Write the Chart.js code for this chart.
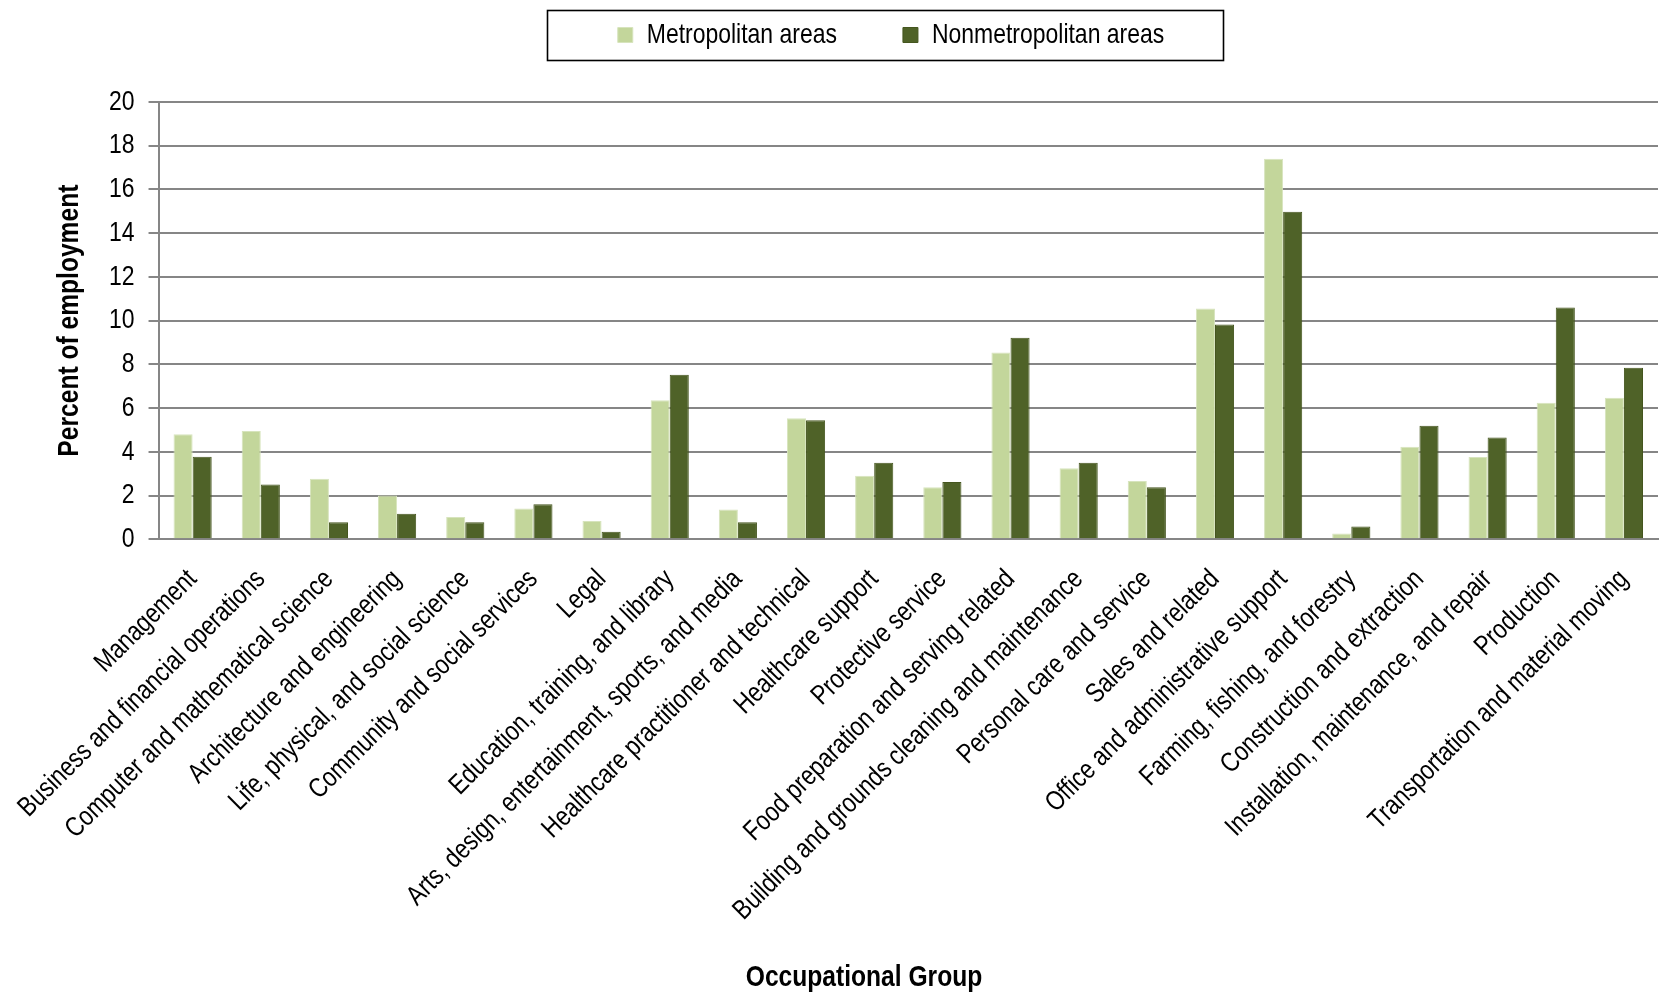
<!DOCTYPE html>
<html>
<head>
<meta charset="utf-8">
<script src="https://cdn.jsdelivr.net/npm/chart.js@4.4.1/dist/chart.umd.min.js"></script>
<style>
  html, body { margin: 0; padding: 0; background: #fff; }
  #wrap { width: 1663px; height: 996px; }
</style>
</head>
<body>
<div id="wrap"><canvas id="occChart"></canvas></div>
<script>
//categories on the x axis
var groups = [
  'Management',
  'Business and financial operations',
  'Computer and mathematical science',
  'Architecture and engineering',
  'Life, physical, and social science',
  'Community and social services',
  'Legal',
  'Education, training, and library',
  'Arts, design, entertainment, sports, and media',
  'Healthcare practitioner and technical',
  'Healthcare support',
  'Protective service',
  'Food preparation and serving related',
  'Building and grounds cleaning and maintenance',
  'Personal care and service',
  'Sales and related',
  'Office and administrative support',
  'Farming, fishing, and forestry',
  'Construction and extraction',
  'Installation, maintenance, and repair',
  'Production',
  'Transportation and material moving'
];

//percent of employment
var metro = [4.8, 4.95, 2.77, 2.0, 1.02, 1.41, 0.83, 6.36, 1.36, 5.53, 2.9, 2.38, 8.54, 3.25, 2.67, 10.55, 17.4, 0.26, 4.23, 3.76, 6.24, 6.47];
var nonmetro = [3.77, 2.5, 0.78, 1.17, 0.78, 1.6, 0.34, 7.52, 0.78, 5.44, 3.5, 2.62, 9.22, 3.5, 2.38, 9.82, 14.98, 0.58, 5.19, 4.65, 10.6, 7.85];

var seriesNames = ['Metropolitan areas', 'Nonmetropolitan areas'];
var xTitle = 'Occupational Group';
var yTitle = 'Percent of employment';

var FONT = "'Liberation Sans', Arial, sans-serif";
var NARROW = 0.82; // the original uses a narrow face, squeeze the text sideways

var canvas = document.getElementById('occChart');

//squeeze text on this canvas so it looks like Arial Narrow
var c2d = canvas.getContext('2d');
var baseFill = c2d.fillText;
var baseMeasure = c2d.measureText;
c2d.fillText = function(t, x, y, mw) {
  this.save();
  this.translate(x, y);
  this.scale(NARROW, 1);
  if (mw === undefined || mw === null) baseFill.call(this, t, 0, 0);
  else baseFill.call(this, t, 0, 0, mw / NARROW);
  this.restore();
};
c2d.measureText = function(t) {
  var m = baseMeasure.call(this, t);
  return {
    width: m.width * NARROW,
    actualBoundingBoxAscent: m.actualBoundingBoxAscent,
    actualBoundingBoxDescent: m.actualBoundingBoxDescent,
    actualBoundingBoxLeft: m.actualBoundingBoxLeft * NARROW,
    actualBoundingBoxRight: m.actualBoundingBoxRight * NARROW
  };
};

//legend: fixed height, moved into place, and framed; x title drawn under the labels
var layoutTweak = {
  id: 'layoutTweak',
  beforeInit: function(chart) {
    var fit = chart.legend.fit;
    chart.legend.fit = function() {
      fit.bind(chart.legend)();
      this.height = 92;
    };
  },
  afterLayout: function(chart) {
    var lg = chart.legend;
    var pad = lg.options.labels.padding;
    lg.left += 38; lg.right += 38;
    lg.top = 35 - pad - 14;
  },
  afterDraw: function(chart) {
    var c = chart.ctx;
    c.save();
    c.strokeStyle = '#000';
    c.lineWidth = 1.6;
    c.strokeRect(547.5, 10.5, 676, 50);
    c.fillStyle = '#000';
    c.font = 'bold 30px ' + FONT;
    c.textAlign = 'center';
    c.textBaseline = 'middle';
    c.fillText(xTitle, 864, 978);
    c.restore();
  }
};

var occChart = new Chart(canvas, {
  type: 'bar',
  data: {
    labels: groups,
    datasets: [{
      label: seriesNames[0],
      data: metro,
      backgroundColor: '#C3D69B',
      borderColor: '#D7E4BD',
      borderWidth: 1
    }, {
      label: seriesNames[1],
      data: nonmetro,
      backgroundColor: '#4F6228',
      borderColor: '#45561F',
      borderWidth: 1
    }]
  },
  options: {
    responsive: true,
    maintainAspectRatio: false,
    animation: false,
    layout: { padding: { top: 10, right: 5, left: 48, bottom: 45 } },
    datasets: {
      bar: { categoryPercentage: 0.56, barPercentage: 1.0 }
    },
    plugins: {
      legend: {
        position: 'top',
        labels: {
          color: '#000',
          font: { family: FONT, size: 28 },
          boxWidth: 15,
          boxHeight: 15,
          padding: 66
        }
      },
      tooltip: { enabled: false }
    },
    scales: {
      x: {
        afterFit: function(scale) { scale.paddingRight = 0; },
        grid: { drawOnChartArea: false, drawTicks: false },
        border: { color: '#868686', width: 2 },
        ticks: {
          color: '#000',
          font: { family: FONT, size: 27.5 },
          minRotation: 45,
          maxRotation: 45,
          autoSkip: false,
          padding: 24
        }
      },
      y: {
        min: 0,
        max: 20,
        ticks: {
          stepSize: 2,
          color: '#000',
          font: { family: FONT, size: 28 },
          padding: 14
        },
        grid: { color: '#868686', lineWidth: 2, tickLength: 10 },
        border: { color: '#868686', width: 2 },
        title: {
          display: true,
          text: yTitle,
          color: '#000',
          font: { family: FONT, size: 30, weight: 'bold' },
          padding: { bottom: 7 }
        }
      }
    }
  },
  plugins: [layoutTweak]
});
</script>
</body>
</html>
